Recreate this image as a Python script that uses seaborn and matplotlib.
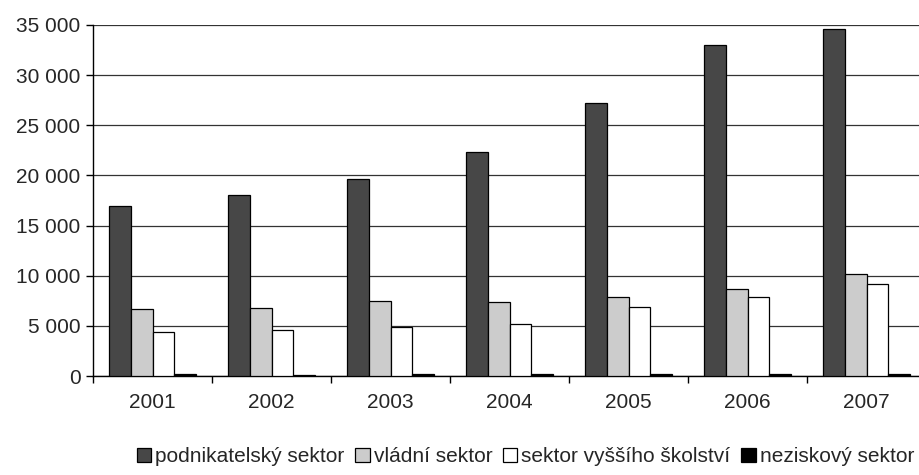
import numpy as np
import pandas as pd
import matplotlib
matplotlib.use("Agg")
import matplotlib.pyplot as plt
import seaborn as sns
from matplotlib.ticker import FuncFormatter

# ── DATA ─────────────────────────────────────────────────────────────────────
years = ["2001", "2002", "2003", "2004", "2005", "2006", "2007"]
sectors = ["podnikatelský sektor", "vládní sektor",
           "sektor vyššího školství", "neziskový sektor"]
podnikatelsky = [16950, 18050, 19650, 22300, 27200, 33000, 34600]
vladni = [6650, 6750, 7450, 7350, 7850, 8650, 10200]
skolstvi = [4400, 4550, 4900, 5150, 6850, 7850, 9150]
neziskovy = [150, 130, 150, 150, 220, 220, 220]

colors = ["#474747", "#cccccc", "#ffffff", "#000000"]

df = pd.DataFrame({
    "rok": years * 4,
    "sektor": np.repeat(sectors, len(years)),
    "hodnota": podnikatelsky + vladni + skolstvi + neziskovy,
})

# ── PLOT ─────────────────────────────────────────────────────────────────────
sns.set_theme(style="white")
plt.rcParams["font.family"] = ["Liberation Sans", "DejaVu Sans"]

fig = plt.figure(figsize=(9.2, 4.75), dpi=100)
ax = fig.add_axes([93 / 920, 1 - 376 / 475, 833 / 920, 351 / 475])

sns.barplot(data=df, x="rok", y="hodnota", hue="sektor", order=years,
            hue_order=sectors, palette=colors, width=0.73,
            edgecolor="black", linewidth=0.9, saturation=1, ax=ax, zorder=3)

ax.set_ylim(0, 35000)
ax.set_xlim(-0.5, len(years) - 0.5)
ax.set_yticks(np.arange(0, 35001, 5000))
ax.yaxis.set_major_formatter(FuncFormatter(lambda v, p: f"{int(v):,}".replace(",", " ")))
ax.yaxis.grid(True, color="#333333", linewidth=0.9, zorder=0)
ax.set_axisbelow(True)

ax.set_xticks(range(len(years)))
ax.set_xticklabels(years)
ax.set_xticks(np.arange(-0.5, len(years), 1), minor=True)
ax.tick_params(axis="x", which="major", length=0, pad=12, labelsize=15)
ax.tick_params(axis="x", which="minor", length=5, width=1, color="black", direction="out", bottom=True)
ax.tick_params(axis="y", length=5, width=1, color="black", direction="out", left=True, labelsize=15, pad=4)

ax.set_xlabel("")
ax.set_ylabel("")
for s in ["top", "right"]:
    ax.spines[s].set_visible(False)
for s in ["left", "bottom"]:
    ax.spines[s].set_color("black")
    ax.spines[s].set_linewidth(1)

handles, labels = ax.get_legend_handles_labels()
ax.legend(handles, labels, ncol=4, loc="center", bbox_to_anchor=(0.519, -0.23),
          frameon=False, fontsize=15, handlelength=0.7, handleheight=0.7,
          handletextpad=0.2, columnspacing=0.5, borderaxespad=0)

fig.savefig("out.png", dpi=100)
